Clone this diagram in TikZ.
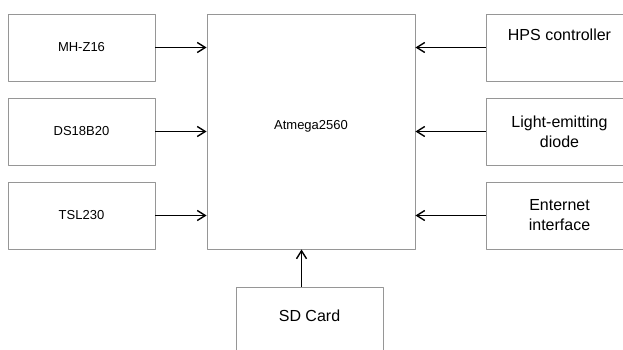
\documentclass[tikz,border=0pt]{standalone}
\usepackage{fontspec}
\setmainfont{Liberation Sans}
\usepackage{xcolor}
\usetikzlibrary{arrows.meta}
\definecolor{boxgray}{RGB}{150,150,150}

\begin{document}
\begin{tikzpicture}[x=1pt, y=-1pt, line join = round,
  block/.style={draw=boxgray, line width=0.9pt, minimum width=147pt, minimum height=67pt, inner sep=0pt, align=center},
  small/.style={font=\fontsize{13}{15.6}\selectfont},
  big/.style={font=\fontsize{16}{20}\selectfont},
  feed/.style={line width=1.8pt, -{Straight Barb[length=8pt,width=10pt,line width=1.4pt]}}]
\useasboundingbox (0,0) rectangle (623,350);
\clip (0,0) rectangle (623,350);

\node[block, small] (mhz)  at (81.5,47.5)  {MH-Z16};
\node[block, small] (ds)   at (81.5,131.5) {DS18B20};
\node[block, small] (tsl)  at (81.5,215.5) {TSL230};

\node[block, small, minimum width=208pt, minimum height=235pt, text depth=13pt] (mcu) at (311,131.5) {Atmega2560};

\node[block, big] (hps) at (559.5,47.5)  {HPS controller\\[6pt]~};
\node[block, big] (led) at (559.5,131.5) {Light-emitting\\diode};
\node[block, big] (net) at (559.5,215.5) {Enternet\\interface};

\node[block, big, text depth=10pt] (sd) at (309.5,320.5) {SD Card};

\draw[feed] (mhz.east) -- (mhz.east -| mcu.west);
\draw[feed] (ds.east)  -- (ds.east -| mcu.west);
\draw[feed] (tsl.east) -- (tsl.east -| mcu.west);

\draw[feed] (hps.west) -- (hps.west -| mcu.east);
\draw[feed] (led.west) -- (led.west -| mcu.east);
\draw[feed] (net.west) -- (net.west -| mcu.east);

\draw[feed] ([xshift=-8pt]sd.north) -- ([xshift=-8pt]sd.north |- mcu.south);
\end{tikzpicture}
\end{document}
